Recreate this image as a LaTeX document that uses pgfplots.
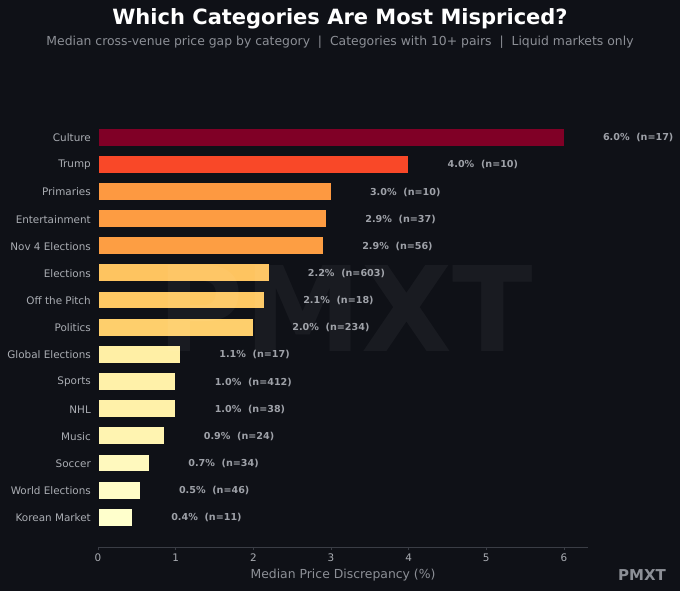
\documentclass[border=0pt]{standalone}
\usepackage{fontspec}
\setmainfont{DejaVu Sans}
\usepackage{pgfplots}
\pgfplotsset{compat=1.18}
\definecolor{bgc}{RGB}{15,17,23}
\definecolor{tickc}{RGB}{170,173,179}
\definecolor{valc}{RGB}{158,161,168}
\definecolor{labc}{RGB}{140,143,150}
\definecolor{spinec}{RGB}{58,61,69}
\definecolor{c14}{RGB}{128,0,38}
\definecolor{c13}{RGB}{249,72,40}
\definecolor{c12}{RGB}{253,153,65}
\definecolor{c11}{RGB}{253,156,66}
\definecolor{c10}{RGB}{253,158,67}
\definecolor{c9}{RGB}{254,196,96}
\definecolor{c8}{RGB}{254,200,99}
\definecolor{c7}{RGB}{254,207,108}
\definecolor{c6}{RGB}{255,239,165}
\definecolor{c5}{RGB}{255,241,169}
\definecolor{c4}{RGB}{255,241,169}
\definecolor{c3}{RGB}{255,244,177}
\definecolor{c2}{RGB}{255,249,190}
\definecolor{c1}{RGB}{255,252,198}
\definecolor{c0}{RGB}{255,255,204}
\begin{document}
\begin{tikzpicture}[x=1pt,y=1pt]
\fill[bgc] (0,0) rectangle (680,591);
\path[use as bounding box] (0,0) rectangle (680,591);
\node[anchor=base, text=white, font=\fontsize{21}{25}\selectfont\bfseries] at (340,566) {Which Categories Are Most Mispriced?};
\node[anchor=base, text=labc, font=\fontsize{12.4}{15}\selectfont] at (340,545) {Median cross-venue price gap by category\ \ |\ \ Categories with 10+ pairs\ \ |\ \ Liquid markets only};
\begin{axis}[
  at={(98pt,44pt)}, anchor=south west,
  scale only axis, width=490pt, height=440pt,
  xmin=0, xmax=6.31, ymin=-1.1, ymax=15.1,
  separate axis lines,
  axis x line*=bottom, axis y line*=left,
  x axis line style={draw=spinec, line width=0.8pt, -},
  y axis line style={draw=none},
  xtick={0,1,2,3,4,5,6},
  ytick={0,...,14},
  yticklabels={Korean Market,World Elections,Soccer,Music,NHL,Sports,Global Elections,Politics,Off the Pitch,Elections,Nov 4 Elections,Entertainment,Primaries,Trump,Culture},
  tick align=outside,
  xtick style={draw=spinec, line width=0.8pt},
  ytick style={draw=none},
  major tick length=3.5pt,
  /pgf/number format/assume math mode=true,
  xticklabel style={font=\fontsize{10.4}{12}\selectfont, text=tickc, inner sep=0pt, yshift=-3.5pt},
  yticklabel style={font=\fontsize{10.4}{12}\selectfont, text=tickc, inner sep=0pt, xshift=-3.5pt, yshift=-0.8pt},
  xlabel={Median Price Discrepancy (\%)},
  xlabel style={at={(rel axis cs:0.5,0)}, anchor=base, yshift=-31.5pt, font=\fontsize{12.4}{15}\selectfont, text=labc},
  mybar/.style={xbar, bar width=0.66, bar shift=0pt, draw=bgc, line width=0.6pt,
    nodes near coords, point meta=explicit symbolic,
    every node near coord/.append style={anchor=west, inner sep=0pt, xshift=38.8pt, yshift=-0.8pt, font=\fontsize{9.6}{11}\selectfont\bfseries, text=valc}},
]
\addplot[mybar, fill=c14] coordinates {(6.00,14) [6.0\%\ \ (n=17)]};
\addplot[mybar, fill=c13] coordinates {(4.00,13) [4.0\%\ \ (n=10)]};
\addplot[mybar, fill=c12] coordinates {(3.00,12) [3.0\%\ \ (n=10)]};
\addplot[mybar, fill=c11] coordinates {(2.94,11) [2.9\%\ \ (n=37)]};
\addplot[mybar, fill=c10] coordinates {(2.90,10) [2.9\%\ \ (n=56)]};
\addplot[mybar, fill=c9] coordinates {(2.20,9) [2.2\%\ \ (n=603)]};
\addplot[mybar, fill=c8] coordinates {(2.14,8) [2.1\%\ \ (n=18)]};
\addplot[mybar, fill=c7] coordinates {(2.00,7) [2.0\%\ \ (n=234)]};
\addplot[mybar, fill=c6] coordinates {(1.06,6) [1.1\%\ \ (n=17)]};
\addplot[mybar, fill=c5] coordinates {(1.00,5) [1.0\%\ \ (n=412)]};
\addplot[mybar, fill=c4] coordinates {(1.00,4) [1.0\%\ \ (n=38)]};
\addplot[mybar, fill=c3] coordinates {(0.86,3) [0.9\%\ \ (n=24)]};
\addplot[mybar, fill=c2] coordinates {(0.66,2) [0.7\%\ \ (n=34)]};
\addplot[mybar, fill=c1] coordinates {(0.54,1) [0.5\%\ \ (n=46)]};
\addplot[mybar, fill=c0] coordinates {(0.44,0) [0.4\%\ \ (n=11)]};
\end{axis}
\node[text=white, opacity=0.045, font=\fontsize{118}{120}\selectfont\bfseries, inner sep=0pt] at (345.5,283) {PMXT};
\node[text=labc, font=\fontsize{15}{18}\selectfont\bfseries, inner sep=0pt] at (642,16) {PMXT};
\end{tikzpicture}
\end{document}
